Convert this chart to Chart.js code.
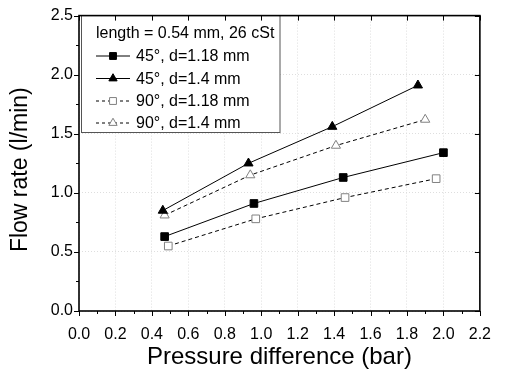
<!DOCTYPE html>
<html>
<head>
<meta charset="utf-8">
<script src="https://cdn.jsdelivr.net/npm/chart.js@4.4.1/dist/chart.umd.min.js"></script>
<style>
  html, body { margin: 0; padding: 0; background: #fff; }
  #wrap { width: 505px; height: 378px; }
</style>
</head>
<body>
<div id="wrap"><canvas id="flow"></canvas></div>
<script>
// pressure difference (bar) vs flow rate (l/min)
const p45d118 = [0.47, 0.96, 1.45, 2.00];
const q45d118 = [0.63, 0.91, 1.13, 1.34];
const p45d14 = [0.46, 0.93, 1.39, 1.86];
const q45d14 = [0.85, 1.25, 1.56, 1.91];
const p90d118 = [0.49, 0.97, 1.46, 1.96];
const q90d118 = [0.55, 0.78, 0.96, 1.12];
const p90d14 = [0.47, 0.94, 1.41, 1.90];
const q90d14 = [0.81, 1.15, 1.40, 1.62];
const seriesNames = ['45°, d=1.18 mm', '45°, d=1.4 mm', '90°, d=1.18 mm', '90°, d=1.4 mm'];
const legendTitle = 'length = 0.54 mm, 26 cSt';

const FONT = "'Liberation Sans', Arial, sans-serif";

function pts(xs, ys) {
    return xs.map(function(v, i){ return {x: v, y: ys[i]}; });
}

function series(name, xs, ys, style, open) {
    return {
        label: name,
        data: pts(xs, ys),
        showLine: true,
        borderColor: '#000',
        borderWidth: 1,
        borderDash: open ? [4, 3] : [],
        pointStyle: style,
        pointRadius: style == 'rect' ? 5.4 : 5.3,
        pointBorderWidth: 1,
        pointBackgroundColor: open ? '#fff' : '#000',
        pointBorderColor: open ? '#808080' : '#000'
    };
}

const datasets = [
    series(seriesNames[0], p45d118, q45d118, 'rect', false),
    series(seriesNames[1], p45d14, q45d14, 'triangle', false),
    series(seriesNames[2], p90d118, q90d118, 'rect', true),
    series(seriesNames[3], p90d14, q90d14, 'triangle', true)
];

// box legend in the upper left corner
const boxLegend = {
    id: 'boxLegend',
    afterDatasetsDraw(chart) {
        const ctx = chart.ctx;
        ctx.save();
        ctx.fillStyle = '#fff';
        ctx.strokeStyle = '#555';
        ctx.lineWidth = 1;
        ctx.fillRect(81.5, 15.5, 198.5, 117);
        ctx.strokeRect(81.5, 15.5, 198.5, 117);
        ctx.fillStyle = '#000';
        ctx.font = '16px ' + FONT;
        ctx.textBaseline = 'alphabetic';
        ctx.fillText(legendTitle, 96, 38);
        const rows = [61, 83.5, 106, 128];
        chart.data.datasets.forEach(function(ds, i){
            const yy = rows[i] - 5;
            ctx.save();
            ctx.strokeStyle = '#000';
            ctx.lineWidth = 1;
            ctx.setLineDash(ds.borderDash.length ? [3, 3] : []);
            ctx.beginPath();
            ctx.moveTo(96, yy);
            ctx.lineTo(130, yy);
            ctx.stroke();
            ctx.setLineDash([]);
            ctx.fillStyle = ds.pointBackgroundColor;
            ctx.strokeStyle = ds.pointBorderColor;
            Chart.helpers.drawPoint(ctx, {pointStyle: ds.pointStyle, radius: ds.pointRadius * 0.9, rotation: 0, borderWidth: 1}, 113, yy);
            ctx.restore();
            ctx.fillStyle = '#000';
            ctx.fillText(ds.label, 136, rows[i]);
        });
        ctx.restore();
    }
};

// frame around the plot plus major/minor tick marks
const frame = {
    id: 'frame',
    afterDraw(chart) {
        const ctx = chart.ctx;
        const a = chart.chartArea;
        const x = chart.scales.x, y = chart.scales.y;
        ctx.save();
        ctx.strokeStyle = '#000';
        ctx.lineWidth = 1;
        ctx.beginPath();
        x.ticks.forEach(function(t, i){
            const px = Math.round(x.getPixelForValue(t.value)) + 0.5;
            ctx.moveTo(px, a.bottom); ctx.lineTo(px, a.bottom + 5);
            ctx.moveTo(px, a.top); ctx.lineTo(px, a.top + 5);
            if (i < x.ticks.length - 1) {
                const m = Math.round(x.getPixelForValue((t.value + x.ticks[i + 1].value) / 2)) + 0.5;
                ctx.moveTo(m, a.bottom); ctx.lineTo(m, a.bottom + 3);
            }
        });
        y.ticks.forEach(function(t, i){
            const py = Math.round(y.getPixelForValue(t.value)) + 0.5;
            ctx.moveTo(a.left, py); ctx.lineTo(a.left - 5, py);
            ctx.moveTo(a.right, py); ctx.lineTo(a.right - 5, py);
            if (i < y.ticks.length - 1) {
                const m = Math.round(y.getPixelForValue((t.value + y.ticks[i + 1].value) / 2)) + 0.5;
                ctx.moveTo(a.left, m); ctx.lineTo(a.left - 3, m);
            }
        });
        ctx.stroke();
        ctx.lineWidth = 1.6;
        ctx.strokeRect(a.left, a.top, a.right - a.left, a.bottom - a.top);
        ctx.restore();
    }
};

new Chart(document.getElementById('flow').getContext('2d'), {
    type: 'scatter',
    data: { datasets: datasets },
    options: {
        responsive: true,
        maintainAspectRatio: false,
        animation: false,
        layout: { padding: { top: 14, right: 21, left: 0, bottom: 0 } },
        plugins: { legend: { display: false }, tooltip: { enabled: false } },
        scales: {
            x: {
                type: 'linear',
                min: 0, max: 2.2,
                afterFit: function(s){ s.height = 67; },
                ticks: {
                    stepSize: 0.2,
                    color: '#000',
                    padding: 14,
                    maxRotation: 0,
                    font: { family: FONT, size: 16 },
                    callback: function(v){ return v.toFixed(1); }
                },
                grid: { color: '#dedede', drawTicks: false },
                border: { display: false, dash: [1, 2] },
                title: {
                    display: true,
                    text: 'Pressure difference (bar)',
                    color: '#000',
                    font: { family: FONT, size: 24 },
                    padding: { top: 0, bottom: 6 }
                }
            },
            y: {
                type: 'linear',
                min: 0, max: 2.5,
                afterFit: function(s){ s.width = 79; },
                ticks: {
                    stepSize: 0.5,
                    color: '#000',
                    padding: 6,
                    font: { family: FONT, size: 16 },
                    callback: function(v){ return v.toFixed(1); }
                },
                grid: { color: '#dedede', drawTicks: false },
                border: { display: false, dash: [1, 2] },
                title: {
                    display: true,
                    text: 'Flow rate (l/min)  ',
                    color: '#000',
                    font: { family: FONT, size: 23 },
                    padding: { top: 7, bottom: 0 }
                }
            }
        }
    },
    plugins: [boxLegend, frame]
});
</script>
</body>
</html>
